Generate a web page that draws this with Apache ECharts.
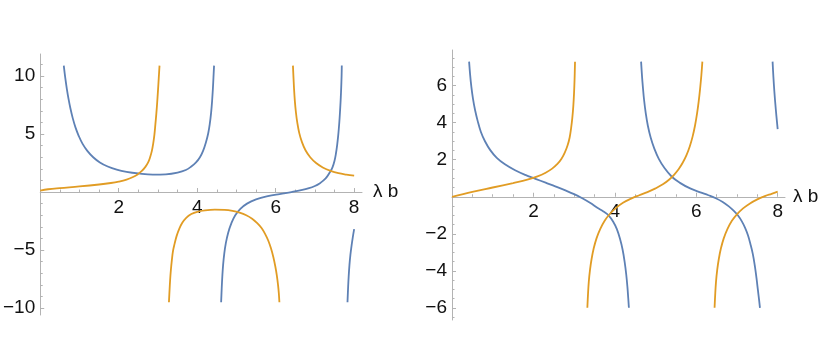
<!DOCTYPE html>
<html>
<head>
<meta charset="utf-8">
<script src="https://cdn.jsdelivr.net/npm/echarts@6/dist/echarts.min.js"></script>
<style>
html,body{margin:0;padding:0;background:#fff;}
#chart{width:822px;height:345px;}
</style>
</head>
<body>
<div id="chart"></div>
<script>
// ---------- data ----------
// Left panel
const leftBlue1 = [[0.60,10.9],[0.64,9.8],[0.68,8.85],[0.72,8.05],[0.77,7.2],[0.83,6.35],[0.90,5.55],[0.98,4.85],[1.08,4.15],[1.20,3.55],[1.35,3.0],[1.52,2.55],[1.72,2.2],[1.95,1.93],[2.2,1.74],[2.5,1.6],[2.87,1.5],[3.2,1.53],[3.5,1.68],[3.71,1.9],[3.85,2.2],[3.97,2.55],[4.07,3.0],[4.15,3.55],[4.22,4.25],[4.28,5.05],[4.32,5.85],[4.355,6.85],[4.38,7.85],[4.40,8.9],[4.415,9.9],[4.43,10.9]];
const leftBlue2 = [[4.61,-9.5],[4.625,-8.3],[4.64,-7.3],[4.66,-6.3],[4.69,-5.3],[4.73,-4.4],[4.79,-3.5],[4.87,-2.7],[4.97,-2.0],[5.1,-1.45],[5.27,-1.0],[5.5,-0.64],[5.8,-0.36],[6.1,-0.17],[6.4,0.0],[6.65,0.16],[6.85,0.33],[7.0,0.52],[7.12,0.74],[7.22,1.0],[7.31,1.33],[7.39,1.75],[7.45,2.15],[7.50,2.7],[7.535,3.3],[7.565,4.0],[7.59,4.75],[7.61,5.5],[7.63,6.4],[7.645,7.25],[7.66,8.2],[7.67,9.0],[7.68,10.0],[7.685,10.9]];
const leftBlue3 = [[7.83,-9.5],[7.845,-8.3],[7.86,-7.3],[7.88,-6.3],[7.905,-5.4],[7.935,-4.6],[7.965,-3.9],[8.0,-3.2]];
const leftOrange1 = [[0,0.12],[0.2,0.24],[0.5,0.34],[1.0,0.48],[1.5,0.65],[1.8,0.78],[2.0,0.9],[2.2,1.07],[2.35,1.27],[2.48,1.52],[2.59,1.82],[2.68,2.17],[2.75,2.55],[2.80,3.0],[2.845,3.55],[2.88,4.2],[2.91,4.95],[2.935,5.85],[2.96,6.8],[2.98,7.7],[3.0,8.7],[3.02,9.8],[3.04,10.9]];
const leftOrange2 = [[3.28,-9.5],[3.295,-8.5],[3.31,-7.6],[3.33,-6.7],[3.355,-5.85],[3.385,-5.05],[3.425,-4.45],[3.475,-3.8],[3.54,-3.2],[3.62,-2.65],[3.72,-2.22],[3.85,-1.9],[4.0,-1.7],[4.2,-1.58],[4.45,-1.52],[4.7,-1.54],[4.9,-1.63],[5.08,-1.78],[5.25,-2.0],[5.4,-2.3],[5.53,-2.68],[5.64,-3.1],[5.73,-3.6],[5.81,-4.18],[5.88,-4.85],[5.94,-5.6],[5.99,-6.4],[6.03,-7.2],[6.06,-8.0],[6.08,-8.7],[6.095,-9.5]];
const leftOrange3 = [[6.44,10.9],[6.455,9.8],[6.47,8.8],[6.49,7.8],[6.515,6.9],[6.55,6.0],[6.6,5.1],[6.67,4.3],[6.76,3.6],[6.88,3.0],[7.03,2.5],[7.2,2.12],[7.4,1.82],[7.6,1.62],[7.8,1.5],[8.0,1.41]];
// Right panel
const rightBlue1 = [[0.42,7.3],[0.445,6.6],[0.475,5.95],[0.515,5.3],[0.565,4.7],[0.63,4.1],[0.71,3.5],[0.81,3.0],[0.94,2.52],[1.1,2.1],[1.3,1.75],[1.55,1.43],[1.8,1.18],[2.05,0.97],[2.3,0.76],[2.55,0.55],[2.8,0.33],[3.0,0.14],[3.2,-0.08],[3.4,-0.34],[3.57,-0.6],[3.72,-0.8],[3.85,-1.02],[3.96,-1.35],[4.05,-1.75],[4.13,-2.3],[4.19,-2.85],[4.24,-3.5],[4.28,-4.2],[4.31,-4.9],[4.33,-5.5],[4.345,-6.0]];
const rightBlue2 = [[4.645,7.3],[4.665,6.6],[4.69,5.9],[4.72,5.2],[4.76,4.5],[4.81,3.85],[4.88,3.2],[4.97,2.6],[5.08,2.05],[5.22,1.55],[5.4,1.08],[5.6,0.75],[5.85,0.45],[6.1,0.24],[6.3,0.08],[6.48,-0.08],[6.65,-0.28],[6.8,-0.52],[6.93,-0.78],[7.03,-1.03],[7.12,-1.33],[7.2,-1.68],[7.27,-2.08],[7.33,-2.55],[7.39,-3.1],[7.44,-3.75],[7.48,-4.4],[7.515,-5.05],[7.545,-5.6],[7.565,-6.0]];
const rightBlue3 = [[7.875,7.3],[7.893,6.55],[7.918,5.7],[7.955,4.7],[8.0,3.65]];
const rightOrange1 = [[0,0],[0.5,0.26],[1.0,0.5],[1.5,0.74],[1.85,0.92],[2.1,1.1],[2.3,1.3],[2.46,1.52],[2.59,1.77],[2.69,2.05],[2.77,2.38],[2.84,2.78],[2.89,3.2],[2.925,3.7],[2.955,4.25],[2.98,4.9],[2.998,5.6],[3.011,6.35],[3.022,7.3]];
const rightOrange2 = [[3.325,-6.0],[3.34,-5.3],[3.36,-4.6],[3.39,-3.95],[3.43,-3.35],[3.48,-2.8],[3.55,-2.25],[3.64,-1.75],[3.75,-1.3],[3.88,-0.92],[4.03,-0.6],[4.2,-0.32],[4.4,-0.1],[4.6,0.08],[4.8,0.25],[5.0,0.45],[5.18,0.67],[5.33,0.92],[5.46,1.2],[5.57,1.5],[5.67,1.85],[5.76,2.25],[5.84,2.72],[5.91,3.25],[5.97,3.85],[6.02,4.5],[6.06,5.15],[6.095,5.85],[6.125,6.55],[6.15,7.3]];
const rightOrange3 = [[6.45,-6.0],[6.465,-5.3],[6.485,-4.6],[6.515,-3.95],[6.555,-3.35],[6.605,-2.8],[6.675,-2.25],[6.765,-1.75],[6.875,-1.3],[7.0,-0.95],[7.15,-0.63],[7.32,-0.36],[7.5,-0.14],[7.7,0.05],[7.85,0.16],[8.0,0.28]];

// tick positions and labels
const xMajorTicks = [2, 4, 6, 8];
const xMinorTicks = [0.5, 1, 1.5, 2.5, 3, 3.5, 4.5, 5, 5.5, 6.5, 7, 7.5];
const leftYMajorTicks = [-10, -5, 5, 10];
const leftYMinorTicks = [-9, -8, -7, -6, -4, -3, -2, -1, 1, 2, 3, 4, 6, 7, 8, 9, 11];
const rightYMajorTicks = [-6, -4, -2, 2, 4, 6];
const rightYMinorTicks = [-6.5, -5.5, -5, -4.5, -3.5, -3, -2.5, -1.5, -1, -0.5, 0.5, 1, 1.5, 2.5, 3, 3.5, 4.5, 5, 5.5, 6.5, 7, 7.5];
const xAxisTitle = 'λ b';

// ---------- chart ----------
const BLUE = '#5E81B5', ORANGE = '#E19C24', AXIS = '#b3b3b3', TXT = '#111';
const FONT = '"Liberation Sans", Arial, sans-serif';
const fmt = v => String(v).replace('-', '\u2212');

const grids = [
  { left: 39, top: 54, width: 323, height: 261, ymin: -10.6, ymax: 11.9, xmax: 8.2, gap: 11 },
  { left: 452, top: 50, width: 333, height: 270, ymin: -6.66, ymax: 7.93, xmax: 8.18, gap: 8 }
];
// distance from the grid bottom up to y = 0 (the x axis sits on y = 0)
const zeroOffset = g => -g.height * (0 - g.ymin) / (g.ymax - g.ymin);

function xAxes(gi) {
  const g = grids[gi];
  const off = zeroOffset(g);
  return [
    { type: 'value', gridIndex: gi, min: 0, max: g.xmax, position: 'bottom', offset: off,
      axisLine: { show: true, onZero: false, lineStyle: { color: AXIS, width: 1 } },
      axisTick: { show: true, inside: true, length: 4, customValues: xMajorTicks, lineStyle: { color: AXIS } },
      axisLabel: { show: true, customValues: xMajorTicks, margin: 6, color: TXT, fontSize: 19, fontFamily: FONT, formatter: fmt },
      splitLine: { show: false },
      name: xAxisTitle, nameLocation: 'end', nameGap: g.gap,
      nameTextStyle: { color: TXT, fontSize: 19, fontFamily: FONT, verticalAlign: 'middle', align: 'left' } },
    { type: 'value', gridIndex: gi, min: 0, max: g.xmax, position: 'bottom', offset: off,
      axisLine: { show: false, onZero: false },
      axisTick: { show: true, inside: true, length: 2.5, customValues: xMinorTicks, lineStyle: { color: AXIS } },
      axisLabel: { show: false }, splitLine: { show: false } }
  ];
}
function yAxes(gi, major, minor) {
  const g = grids[gi];
  return [
    { type: 'value', gridIndex: gi, min: g.ymin, max: g.ymax, position: 'left',
      axisLine: { show: true, onZero: false, lineStyle: { color: AXIS, width: 1 } },
      axisTick: { show: true, inside: true, length: 4, customValues: major, lineStyle: { color: AXIS } },
      axisLabel: { show: true, customValues: major, margin: 5, color: TXT, fontSize: 19, fontFamily: FONT, formatter: fmt },
      splitLine: { show: false } },
    { type: 'value', gridIndex: gi, min: g.ymin, max: g.ymax, position: 'left',
      axisLine: { show: false, onZero: false },
      axisTick: { show: true, inside: true, length: 2.5, customValues: minor, lineStyle: { color: AXIS } },
      axisLabel: { show: false }, splitLine: { show: false } }
  ];
}
function line(data, color, xi, yi) {
  return { type: 'line', data: data, xAxisIndex: xi, yAxisIndex: yi, showSymbol: false, symbol: 'none',
    smooth: 0.4, lineStyle: { color: color, width: 1.8 }, itemStyle: { color: color },
    silent: true, animation: false };
}

const chart = echarts.init(document.getElementById('chart'), null, { renderer: 'canvas' });
chart.setOption({
  animation: false,
  backgroundColor: '#fff',
  grid: grids.map(g => ({ left: g.left, top: g.top, width: g.width, height: g.height })),
  xAxis: [].concat(xAxes(0), xAxes(1)),
  yAxis: [].concat(yAxes(0, leftYMajorTicks, leftYMinorTicks), yAxes(1, rightYMajorTicks, rightYMinorTicks)),
  series: [
    line(leftBlue1, BLUE, 0, 0), line(leftBlue2, BLUE, 0, 0), line(leftBlue3, BLUE, 0, 0),
    line(leftOrange1, ORANGE, 0, 0), line(leftOrange2, ORANGE, 0, 0), line(leftOrange3, ORANGE, 0, 0),
    line(rightBlue1, BLUE, 2, 2), line(rightBlue2, BLUE, 2, 2), line(rightBlue3, BLUE, 2, 2),
    line(rightOrange1, ORANGE, 2, 2), line(rightOrange2, ORANGE, 2, 2), line(rightOrange3, ORANGE, 2, 2)
  ]
});
</script>
</body>
</html>
